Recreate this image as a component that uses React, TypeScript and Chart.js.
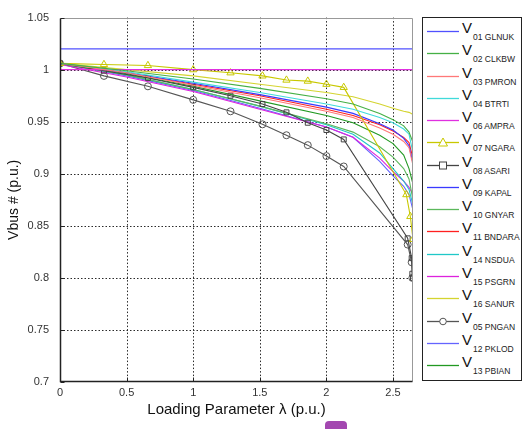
import React, { useEffect, useRef } from 'react';
import { Chart, registerables } from 'chart.js';

Chart.register(...registerables);

// ---------- DATA ----------
const SMOOTH_LAMBDA = [0, 0.5, 1.0, 1.5, 2.0, 2.2, 2.4, 2.5, 2.58, 2.62, 2.65];
const MARKER_LAMBDA_NGARA = [0, 0.33, 0.66, 1.0, 1.28, 1.52, 1.7, 1.86, 2.0, 2.13, 2.6, 2.63, 2.65];
const MARKER_LAMBDA_ASARI = [0, 0.33, 0.66, 1.0, 1.28, 1.52, 1.7, 1.86, 2.0, 2.13, 2.61, 2.64, 2.645, 2.65];
const MARKER_LAMBDA_PNGAN = [0, 0.33, 0.66, 1.0, 1.28, 1.52, 1.7, 1.86, 2.0, 2.13, 2.61, 2.64, 2.645];

const V01_GLNUK = [1.02, 1.02, 1.02, 1.02, 1.02, 1.02, 1.02, 1.02, 1.02, 1.02, 1.02];
const V02_CLKBW = [1.006, 0.999, 0.991, 0.982, 0.972, 0.967, 0.958, 0.952, 0.946, 0.94, 0.93];
const V03_PMRON = [1.006, 0.997, 0.985, 0.973, 0.96, 0.954, 0.944, 0.938, 0.931, 0.925, 0.908];
const V04_BTRTI = [1.006, 0.998, 0.988, 0.978, 0.967, 0.962, 0.954, 0.949, 0.943, 0.938, 0.92];
const V06_AMPRA = [1.0, 1.0, 1.0, 1.0, 1.0, 1.0, 1.0, 1.0, 1.0, 1.0, 1.0];
const V07_NGARA = [1.006, 1.005, 1.004, 1.0, 0.997, 0.994, 0.99, 0.989, 0.986, 0.983, 0.88, 0.859, 0.837];
const V08_ASARI = [1.006, 0.999, 0.992, 0.983, 0.975, 0.967, 0.959, 0.949, 0.942, 0.933, 0.838, 0.819, 0.804, 0.8];
const V09_KAPAL = [1.006, 0.997, 0.987, 0.976, 0.964, 0.958, 0.948, 0.942, 0.934, 0.927, 0.91];
const V10_GNYAR = [1.006, 0.995, 0.981, 0.965, 0.948, 0.94, 0.926, 0.916, 0.905, 0.895, 0.875];
const V11_BNDARA = [1.006, 0.997, 0.986, 0.975, 0.962, 0.956, 0.947, 0.941, 0.935, 0.93, 0.915];
const V14_NSDUA = [1.006, 0.995, 0.981, 0.965, 0.947, 0.938, 0.92, 0.905, 0.893, 0.885, 0.87];
const V15_PSGRN = [1.005, 0.993, 0.979, 0.962, 0.945, 0.935, 0.915, 0.902, 0.893, 0.887, 0.88];
const V16_SANUR = [1.006, 1.0, 0.994, 0.986, 0.978, 0.974, 0.967, 0.963, 0.96, 0.959, 0.957];
const V05_PNGAN = [1.006, 0.994, 0.984, 0.971, 0.96, 0.9475, 0.937, 0.9275, 0.917, 0.907, 0.832, 0.815, 0.8];
const V12_PKLOD = [1.006, 0.994, 0.98, 0.963, 0.945, 0.935, 0.912, 0.898, 0.888, 0.88, 0.865];
const V13_PBIAN = [1.006, 0.996, 0.984, 0.97, 0.956, 0.949, 0.937, 0.929, 0.918, 0.905, 0.89];

const X_TICKS = [0, 0.5, 1, 1.5, 2, 2.5];
const Y_TICKS = [0.7, 0.75, 0.8, 0.85, 0.9, 0.95, 1, 1.05];
const X_MIN = 0;
const X_MAX = 2.65;
const Y_MIN = 0.7;
const Y_MAX = 1.05;

type Marker = 'none' | 'triangle' | 'rect' | 'circle';
interface Series { name: string; color: string; lambda: number[]; values: number[]; marker: Marker; }

const SERIES: Series[] = [
  { name: '01 GLNUK', color: '#5050ff', lambda: SMOOTH_LAMBDA, values: V01_GLNUK, marker: 'none' },
  { name: '02 CLKBW', color: '#45b045', lambda: SMOOTH_LAMBDA, values: V02_CLKBW, marker: 'none' },
  { name: '03 PMRON', color: '#ff7878', lambda: SMOOTH_LAMBDA, values: V03_PMRON, marker: 'none' },
  { name: '04 BTRTI', color: '#40dada', lambda: SMOOTH_LAMBDA, values: V04_BTRTI, marker: 'none' },
  { name: '06 AMPRA', color: '#e030e0', lambda: SMOOTH_LAMBDA, values: V06_AMPRA, marker: 'none' },
  { name: '07 NGARA', color: '#c8c800', lambda: MARKER_LAMBDA_NGARA, values: V07_NGARA, marker: 'triangle' },
  { name: '08 ASARI', color: '#444444', lambda: MARKER_LAMBDA_ASARI, values: V08_ASARI, marker: 'rect' },
  { name: '09 KAPAL', color: '#3a3aff', lambda: SMOOTH_LAMBDA, values: V09_KAPAL, marker: 'none' },
  { name: '10 GNYAR', color: '#5cb85c', lambda: SMOOTH_LAMBDA, values: V10_GNYAR, marker: 'none' },
  { name: '11 BNDARA', color: '#ff2020', lambda: SMOOTH_LAMBDA, values: V11_BNDARA, marker: 'none' },
  { name: '14 NSDUA', color: '#20c8c8', lambda: SMOOTH_LAMBDA, values: V14_NSDUA, marker: 'none' },
  { name: '15 PSGRN', color: '#dd22dd', lambda: SMOOTH_LAMBDA, values: V15_PSGRN, marker: 'none' },
  { name: '16 SANUR', color: '#d4d430', lambda: SMOOTH_LAMBDA, values: V16_SANUR, marker: 'none' },
  { name: '05 PNGAN', color: '#555555', lambda: MARKER_LAMBDA_PNGAN, values: V05_PNGAN, marker: 'circle' },
  { name: '12 PKLOD', color: '#6464ff', lambda: SMOOTH_LAMBDA, values: V12_PKLOD, marker: 'none' },
  { name: '13 PBIAN', color: '#229922', lambda: SMOOTH_LAMBDA, values: V13_PBIAN, marker: 'none' },
];

const FONT = '"Liberation Sans", Arial, Helvetica, sans-serif';

const fmt = (v: number) => String(+Number(v).toFixed(2));

const matlabFrame = {
  id: 'matlabFrame',
  beforeDatasetsDraw(chart: any) {
    const { ctx, chartArea: a, scales } = chart;
    const x = scales.x, y = scales.y;
    ctx.save();
    ctx.strokeStyle = '#2a2a2a';
    ctx.lineWidth = 1;
    ctx.setLineDash([1.5, 2]);
    x.ticks.forEach((t: any) => {
      if (t.value <= X_MIN + 1e-9 || t.value >= X_MAX - 1e-9) return;
      const px = Math.round(x.getPixelForValue(t.value)) + 0.5;
      ctx.beginPath(); ctx.moveTo(px, a.top); ctx.lineTo(px, a.bottom); ctx.stroke();
    });
    y.ticks.forEach((t: any) => {
      if (t.value <= Y_MIN + 1e-9 || t.value >= Y_MAX - 1e-9) return;
      const py = Math.round(y.getPixelForValue(t.value)) + 0.5;
      ctx.beginPath(); ctx.moveTo(a.left, py); ctx.lineTo(a.right, py); ctx.stroke();
    });
    ctx.restore();
  },
  afterDatasetsDraw(chart: any) {
    const { ctx, chartArea: a, scales } = chart;
    const x = scales.x, y = scales.y;
    const L = Math.round(a.left) + 0.5, R = Math.round(a.right) - 0.5;
    const T = Math.round(a.top) + 0.5, B = Math.round(a.bottom) - 0.5;
    ctx.save();
    ctx.setLineDash([]);
    ctx.lineWidth = 1;
    ctx.strokeStyle = '#999';
    ctx.beginPath(); ctx.moveTo(L, T); ctx.lineTo(R, T); ctx.lineTo(R, B); ctx.stroke();
    ctx.strokeStyle = '#222';
    ctx.lineWidth = 1.5;
    ctx.beginPath(); ctx.moveTo(L, T); ctx.lineTo(L, B); ctx.lineTo(R, B); ctx.stroke();
    ctx.lineWidth = 1;
    y.ticks.forEach((t: any) => {
      const py = Math.round(y.getPixelForValue(t.value)) + 0.5;
      ctx.beginPath(); ctx.moveTo(L, py); ctx.lineTo(L + 4, py); ctx.stroke();
    });
    x.ticks.forEach((t: any) => {
      const px = Math.round(x.getPixelForValue(t.value)) + 0.5;
      ctx.beginPath(); ctx.moveTo(px, B); ctx.lineTo(px, B - 4); ctx.stroke();
    });
    ctx.restore();
  },
};

function LegendSample({ s }: { s: Series }) {
  return (
    <svg width={34} height={12} style={{ position: 'absolute', left: 3, top: -6 }}>
      <line x1={1} y1={6.5} x2={33} y2={6.5} stroke={s.color} strokeWidth={1.3} />
      {s.marker === 'triangle' && <polygon points="17,2 21.5,10 12.5,10" fill="#fff" stroke={s.color} strokeWidth={1} />}
      {s.marker === 'rect' && <rect x={13.5} y={3} width={7} height={7} fill="#fff" stroke={s.color} strokeWidth={1} />}
      {s.marker === 'circle' && <circle cx={17} cy={6.5} r={3.3} fill="#fff" stroke={s.color} strokeWidth={1} />}
    </svg>
  );
}

function Legend() {
  const spacing = 22.27;
  return (
    <div style={{ position: 'absolute', left: 422, top: 17, width: 100, height: 364, border: '1px solid #222', background: '#fff', boxSizing: 'border-box', fontFamily: FONT }}>
      {SERIES.map((s, i) => {
        const cy = 13 + i * spacing;
        return (
          <div key={s.name} style={{ position: 'absolute', left: 0, top: cy, width: 98, height: 0 }}>
            <LegendSample s={s} />
            <span style={{ position: 'absolute', left: 39, top: -11, fontSize: 15, lineHeight: '15px', color: '#111', whiteSpace: 'nowrap' }}>V</span>
            <span style={{ position: 'absolute', left: 50, top: 2, fontSize: 8.5, lineHeight: '9px', color: '#222', whiteSpace: 'nowrap', fontWeight: 'normal', letterSpacing: 0 }}>{s.name}</span>
          </div>
        );
      })}
    </div>
  );
}

export default function App() {
  const ref = useRef<HTMLCanvasElement | null>(null);

  useEffect(() => {
    if (!ref.current) return;
    const datasets = SERIES.map((s) => ({
      label: 'V ' + s.name,
      data: s.lambda.map((l, i) => ({ x: l, y: s.values[i] })),
      borderColor: s.color,
      backgroundColor: '#ffffff00',
      borderWidth: 1.1,
      tension: 0,
      pointRadius: s.marker === 'none' ? 0 : s.marker === 'triangle' ? 4.2 : 3.5,
      pointStyle: s.marker === 'none' ? 'circle' : s.marker,
      pointBorderColor: s.color,
      pointBackgroundColor: 'rgba(255,255,255,0)',
      pointBorderWidth: 1,
      fill: false,
    }));

    const chart = new Chart(ref.current, {
      type: 'line',
      data: { datasets },
      plugins: [matlabFrame],
      options: {
        animation: false,
        responsive: false,
        devicePixelRatio: 1,
        layout: { padding: { left: 0, top: 15, right: 112, bottom: 0 } },
        plugins: { legend: { display: false }, tooltip: { enabled: false } },
        scales: {
          x: {
            type: 'linear',
            min: X_MIN,
            max: X_MAX,
            afterBuildTicks: (s: any) => { s.ticks = X_TICKS.map((v) => ({ value: v })); },
            afterFit: (s: any) => { s.height = 47; },
            grid: { display: false, drawTicks: false },
            border: { display: false },
            ticks: { padding: 4, maxRotation: 0, autoSkip: false, color: '#333', font: { family: FONT, size: 11 }, callback: (v: any) => fmt(v) },
            title: { display: true, text: 'Loading Parameter λ (p.u.)', color: '#111', font: { family: FONT, size: 15 }, padding: { top: 0, bottom: 10 } },
          },
          y: {
            type: 'linear',
            min: Y_MIN,
            max: Y_MAX,
            afterBuildTicks: (s: any) => { s.ticks = Y_TICKS.map((v) => ({ value: v })); },
            afterFit: (s: any) => { s.width = 60; },
            grid: { display: false, drawTicks: false },
            border: { display: false },
            ticks: { padding: 11, autoSkip: false, color: '#333', font: { family: FONT, size: 11 }, callback: (v: any) => fmt(v) },
            title: { display: true, text: 'Vbus # (p.u.)', color: '#111', font: { family: FONT, size: 14 }, padding: { top: 6, bottom: 0 } },
          },
        },
      },
    } as any);
    return () => chart.destroy();
  }, []);

  return (
    <div style={{ position: 'fixed', left: 0, top: 0, width: 525, height: 429, background: '#fff', overflow: 'hidden' }}>
      <canvas ref={ref} width={525} height={429} style={{ position: 'absolute', left: 0, top: 0, width: 525, height: 429 }} />
      <Legend />
      <div style={{ position: 'absolute', left: 325, top: 421, width: 22, height: 14, borderRadius: 4, background: '#a347b0' }} />
    </div>
  );
}
